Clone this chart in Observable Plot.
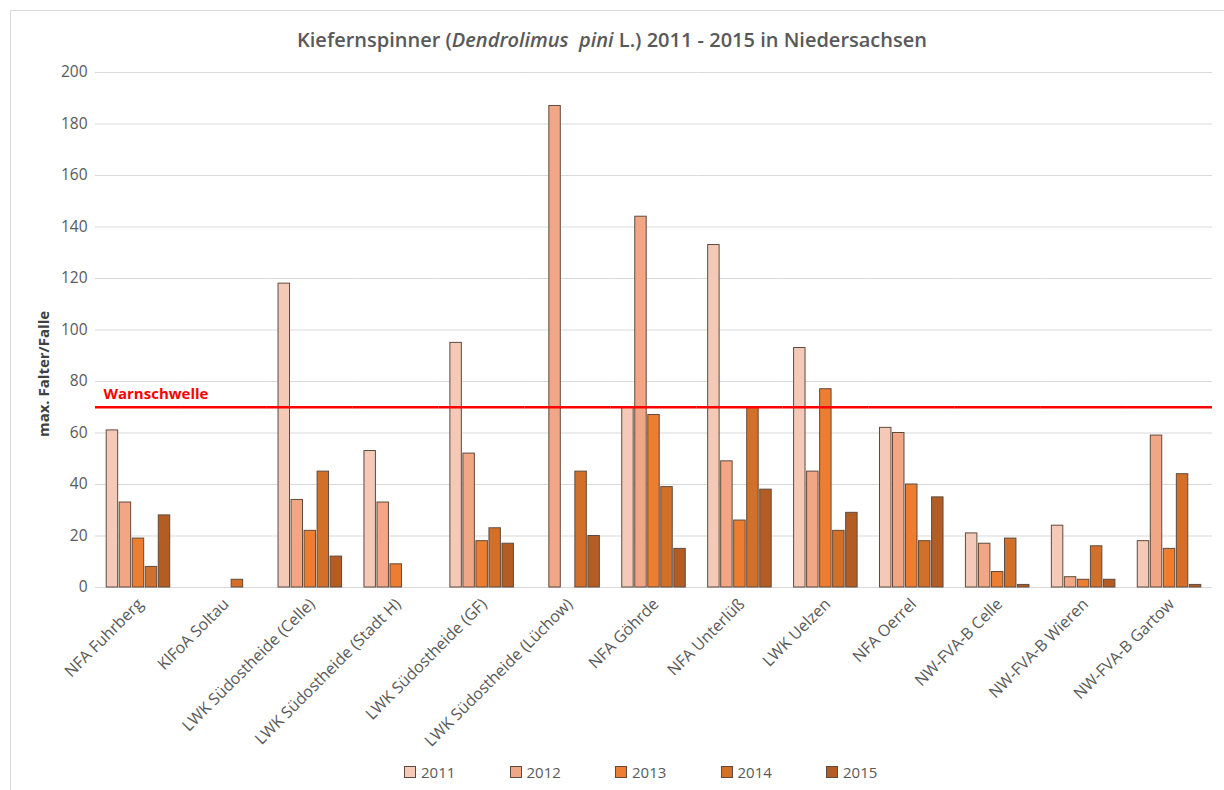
<!DOCTYPE html>
<html>
<head>
<meta charset="utf-8">
<script src="https://cdn.jsdelivr.net/npm/d3@7"></script>
<script src="https://cdn.jsdelivr.net/npm/@observablehq/plot@0.6"></script>
<style>
  body { margin: 0; background: #fff; font-family: "Open Sans", sans-serif; width: 1224px; height: 790px; overflow: hidden; position: relative; }
  #frame { position: absolute; left: 10px; top: 10px; width: 1400px; height: 1000px; border: 1px solid #d9d9d9; box-sizing: border-box; }
  #title { position: absolute; left: 0; top: 26px; width: 1224px; text-align: center; font-size: 20px; font-weight: 600; color: #595959; }
  #chart { position: absolute; left: 0; top: 60px; }
  #ylabel { position: absolute; left: 43px; top: 374px; transform: translate(-50%, -50%) rotate(-90deg); white-space: nowrap; font-size: 15px; font-weight: bold; color: #404040; }
  #legend { position: absolute; left: 404px; top: 762px; display: flex; }
  .item { width: 105.5px; display: flex; align-items: center; font-size: 15px; color: #595959; }
  .sw { width: 10px; height: 10px; border: 1px solid #5e4b3f; margin-right: 5px; }
</style>
</head>
<body>
<div id="frame"></div>
<div id="title">Kiefernspinner (<i>Dendrolimus&nbsp; pini</i> L.) 2011 - 2015 in Niedersachsen</div>
<div id="chart"></div>
<div id="ylabel">max. Falter/Falle</div>
<div id="legend"></div>
<script>
const categories = [
  "NFA Fuhrberg", "KlFoA Soltau", "LWK Südostheide (Celle)", "LWK Südostheide (Stadt H)",
  "LWK Südostheide (GF)", "LWK Südostheide (Lüchow)", "NFA Göhrde", "NFA Unterlüß",
  "LWK Uelzen", "NFA Oerrel", "NW-FVA-B Celle", "NW-FVA-B Wieren", "NW-FVA-B Gartow"
];
const years = ["2011", "2012", "2013", "2014", "2015"];
const v2011 = [61, 0, 118, 53, 95, 0, 70, 133, 93, 62, 21, 24, 18];
const v2012 = [33, 0, 34, 33, 52, 187, 144, 49, 45, 60, 17, 4, 59];
const v2013 = [19, 0, 22, 9, 18, 0, 67, 26, 77, 40, 6, 3, 15];
const v2014 = [8, 3, 45, 0, 23, 45, 39, 70, 22, 18, 19, 16, 44];
const v2015 = [28, 0, 12, 0, 17, 20, 15, 38, 29, 35, 1, 3, 1];
const warnschwelle = 70;
const warnLabel = "Warnschwelle";
const yTicks = [0, 20, 40, 60, 80, 100, 120, 140, 160, 180, 200];
const yearColors = ["#f5c9b7", "#f1a686", "#ed7d31", "#d2702a", "#b35d24"];

const series = [v2011, v2012, v2013, v2014, v2015];
const rows = [];
series.forEach((vals, i) => vals.forEach((v, j) => {
  if (v > 0) rows.push({category: categories[j], year: years[i], value: v});
}));

const chart = Plot.plot({
  width: 1224,
  height: 712,
  marginTop: 12,
  marginBottom: 185,
  marginLeft: 95,
  marginRight: 12,
  style: {fontFamily: "'Open Sans', sans-serif", background: "transparent", overflow: "visible"},
  fx: {domain: categories, padding: 0, round: false, label: null},
  x: {domain: years, paddingInner: 0.12, paddingOuter: 0.86, round: false, axis: null},
  y: {domain: [0, 200]},
  color: {domain: years, range: yearColors},
  marks: [
    Plot.gridY(yTicks, {stroke: "#d9d9d9", strokeOpacity: 1, strokeWidth: 1}),
    Plot.axisY(yTicks, {tickSize: 0, tickPadding: 8, label: null, fontSize: 15.5, fill: "#595959"}),
    Plot.axisFx({anchor: "bottom", tickRotate: -45, tickSize: 0, tickPadding: 14, dx: 2, label: null, fontSize: 16, fill: "#595959"}),
    Plot.barY(rows, {fx: "category", x: "year", y: "value", fill: "year", stroke: "#5e4b3f", strokeWidth: 1}),
    Plot.ruleY([warnschwelle], {stroke: "#ff0000", strokeWidth: 2.5}),
    Plot.text([{category: categories[0], value: warnschwelle}], {
      fx: "category", y: "value", text: () => warnLabel,
      frameAnchor: "left", textAnchor: "start", dx: 8, dy: -13,
      fill: "#ff0000", fontWeight: "bold", fontSize: 15
    })
  ]
});
document.getElementById("chart").appendChild(chart);

const legend = document.getElementById("legend");
years.forEach((y, i) => {
  const item = document.createElement("div");
  item.className = "item";
  const sw = document.createElement("div");
  sw.className = "sw";
  sw.style.background = yearColors[i];
  const t = document.createElement("span");
  t.textContent = y;
  item.appendChild(sw);
  item.appendChild(t);
  legend.appendChild(item);
});
</script>
</body>
</html>
